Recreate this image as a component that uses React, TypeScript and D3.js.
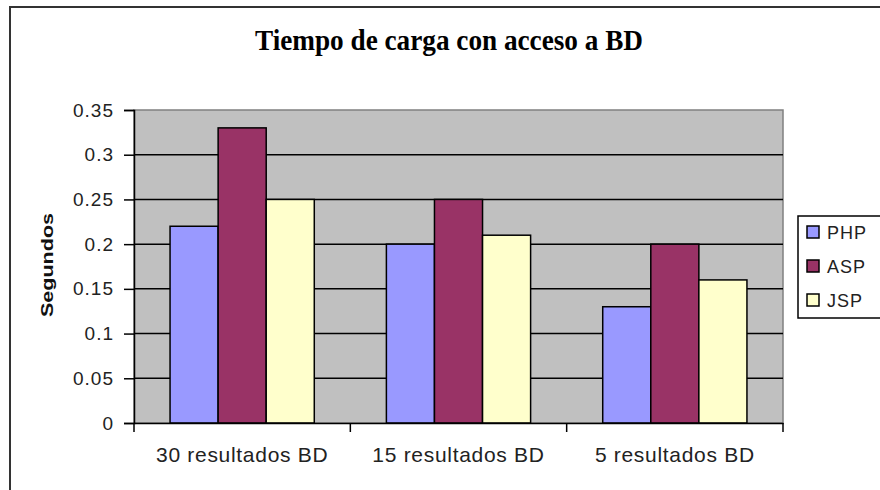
import React, { useEffect, useRef } from 'react';
import * as d3 from 'd3';

// chart data
const categories = ['30 resultados BD', '15 resultados BD', '5 resultados BD'];
const seriesNames = ['PHP', 'ASP', 'JSP'];
const phpValues = [0.22, 0.2, 0.13];
const aspValues = [0.33, 0.25, 0.2];
const jspValues = [0.25, 0.21, 0.16];
const yTicks = [0, 0.05, 0.1, 0.15, 0.2, 0.25, 0.3, 0.35];
const yTickLabels = ['0', '0.05', '0.1', '0.15', '0.2', '0.25', '0.3', '0.35'];

const colors = ['#9999ff', '#993366', '#ffffcc'];
const sans = '"Liberation Sans", Arial, sans-serif';

export default function App() {
	const node = useRef<SVGSVGElement>(null);

	useEffect(() => {
		const svg = d3.select(node.current);
		svg.selectAll('*').remove();

		const plot = { left: 134, right: 783, top: 110, bottom: 423 };
		const values = [phpValues, aspValues, jspValues];

		// outer chart border
		svg.append('rect')
			.attr('x', 10).attr('y', 7)
			.attr('width', 900).attr('height', 520)
			.attr('fill', '#fff')
			.attr('stroke', '#333')
			.attr('stroke-width', 2);

		// title
		svg.append('text')
			.attr('x', 449).attr('y', 50)
			.attr('text-anchor', 'middle')
			.attr('font-family', '"Liberation Serif", "Times New Roman", serif')
			.attr('font-weight', 'bold')
			.attr('font-size', 29)
			.attr('textLength', 388)
			.attr('lengthAdjust', 'spacingAndGlyphs')
			.attr('fill', '#000')
			.text('Tiempo de carga con acceso a BD');

		// scales
		const x0 = d3.scaleBand<string>()
			.domain(categories)
			.range([plot.left, plot.right])
			.padding(0);
		const x1 = d3.scaleBand<string>()
			.domain(seriesNames)
			.range([0, x0.bandwidth()])
			.paddingInner(0)
			.paddingOuter(0.75);
		const y = d3.scaleLinear()
			.domain([0, 0.35])
			.range([plot.bottom, plot.top]);

		// plot background
		svg.append('rect')
			.attr('x', plot.left).attr('y', plot.top)
			.attr('width', plot.right - plot.left)
			.attr('height', plot.bottom - plot.top)
			.attr('fill', '#c0c0c0')
			.attr('stroke', '#808080')
			.attr('stroke-width', 1.5);

		// gridlines
		svg.append('g')
			.selectAll('line')
			.data(yTicks.slice(1, -1))
			.enter()
			.append('line')
			.attr('x1', plot.left).attr('x2', plot.right)
			.attr('y1', d => y(d)).attr('y2', d => y(d))
			.attr('stroke', '#000')
			.attr('stroke-width', 1.5);

		// bars
		const groups = svg.append('g')
			.selectAll('g')
			.data(categories)
			.enter()
			.append('g')
			.attr('transform', d => `translate(${x0(d)},0)`);

		groups.selectAll('rect')
			.data((c, ci) => seriesNames.map((s, si) => ({ s, si, v: values[si][ci] })))
			.enter()
			.append('rect')
			.attr('x', d => x1(d.s) as number)
			.attr('y', d => y(d.v))
			.attr('width', x1.bandwidth())
			.attr('height', d => y(0) - y(d.v))
			.attr('fill', d => colors[d.si])
			.attr('stroke', '#000')
			.attr('stroke-width', 1.5);

		// y axis
		const yAxis = d3.axisLeft(y)
			.tickValues(yTicks)
			.tickSize(10)
			.tickPadding(10)
			.tickFormat((d, i) => yTickLabels[i]);
		const yg = svg.append('g')
			.attr('transform', `translate(${plot.left},0)`)
			.call(yAxis);
		yg.select('.domain').attr('stroke', '#000').attr('stroke-width', 1.5);
		yg.selectAll('.tick line').attr('stroke', '#000').attr('stroke-width', 1.5);
		yg.selectAll('.tick text')
			.attr('font-family', sans)
			.attr('font-size', 19)
			.attr('letter-spacing', 1)
			.attr('fill', '#222');

		// x axis
		const xAxis = d3.axisBottom(x0)
			.tickSize(0)
			.tickPadding(24);
		const xg = svg.append('g')
			.attr('transform', `translate(0,${plot.bottom})`)
			.call(xAxis);
		xg.select('.domain').attr('stroke', '#000').attr('stroke-width', 1.5);
		xg.selectAll('.tick text')
			.attr('font-family', sans)
			.attr('font-size', 21)
			.attr('letter-spacing', 0.7)
			.attr('fill', '#222');
		// category separators
		xg.append('g')
			.selectAll('line')
			.data([...categories.map(c => x0(c) as number), plot.right])
			.enter()
			.append('line')
			.attr('x1', d => d).attr('x2', d => d)
			.attr('y1', 0).attr('y2', 9)
			.attr('stroke', '#000')
			.attr('stroke-width', 1.5);

		// y axis title
		svg.append('text')
			.attr('transform', `translate(53,265) rotate(-90)`)
			.attr('text-anchor', 'middle')
			.attr('font-family', sans)
			.attr('font-weight', 'bold')
			.attr('font-size', 17)
			.attr('textLength', 104)
			.attr('lengthAdjust', 'spacingAndGlyphs')
			.attr('fill', '#111')
			.text('Segundos');

		// legend
		const legend = svg.append('g').attr('transform', 'translate(798,216)');
		legend.append('rect')
			.attr('x', 0).attr('y', 0)
			.attr('width', 100).attr('height', 102)
			.attr('fill', '#fff')
			.attr('stroke', '#000')
			.attr('stroke-width', 1.5);
		const items = legend.selectAll('g.item')
			.data(seriesNames)
			.enter()
			.append('g')
			.attr('class', 'item')
			.attr('transform', (d, i) => `translate(0,${16 + i * 34})`);
		items.append('rect')
			.attr('x', 9).attr('y', -6)
			.attr('width', 12).attr('height', 12)
			.attr('fill', (d, i) => colors[i])
			.attr('stroke', '#000')
			.attr('stroke-width', 1.5);
		items.append('text')
			.attr('x', 29).attr('y', 6.5)
			.attr('font-family', sans)
			.attr('font-size', 18)
			.attr('letter-spacing', 1)
			.attr('fill', '#222')
			.text(d => d);
	}, []);

	return (
		<svg
			ref={node}
			width={880}
			height={490}
			style={{ position: 'absolute', left: 0, top: 0, background: '#fff' }}
		/>
	);
}
